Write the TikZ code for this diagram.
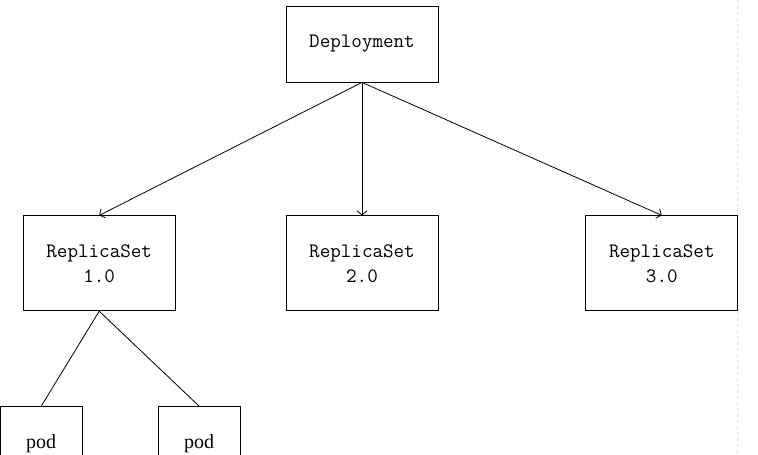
\documentclass[tikz,border=0pt]{standalone}
\usepackage{fontspec}
\setmainfont{Liberation Serif}
\usepackage{tikz}
\usetikzlibrary{positioning,arrows.meta}

\begin{document}
\begin{tikzpicture}[
node distance=1cm,
box/.style={
draw,
line width=0.8pt,
inner sep=0pt,
align=center,
font=\ttfamily\fontsize{20.5}{25}\selectfont,
minimum width=152pt,
minimum height=95pt
},
topbox/.style={
box,
minimum height=76pt
},
podbox/.style={
draw,
line width=0.8pt,
inner sep=0pt,
font=\fontsize{20}{24}\selectfont,
minimum width=82pt,
minimum height=74pt
},
arrow/.style={
-{Straight Barb[length=4pt,width=10pt]},
line width=0.8pt
},
link/.style={
line width=0.8pt
}
]

\useasboundingbox (0,0) rectangle (758pt,-455pt);

% page edge
\draw[gray!25, dashed, line width=0.8pt] (737.5pt,0) -- (737.5pt,-455pt);


% Deployment

\node (deploy) [topbox] at (362pt,-44pt)
{Deployment};


% ReplicaSets

\node (rs2) [box, below=133pt of deploy]
{
ReplicaSet\\
2.0
};

\node (rs1) [box, left=110pt of rs2]
{
ReplicaSet\\
1.0
};

\node (rs3) [box, right=147pt of rs2]
{
ReplicaSet\\
3.0
};


\draw[arrow] (deploy.south) -- (rs1.north);
\draw[arrow] (deploy.south) -- (rs2.north);
\draw[arrow] (deploy.south) -- (rs3.north);


% pods

\node (pod1) [podbox, below=95pt of rs1, xshift=-58pt]
{pod};

\node (pod2) [podbox, below=95pt of rs1, xshift=100pt]
{pod};


\draw[link] (rs1.south) -- (pod1.north);
\draw[link] (rs1.south) -- (pod2.north);


\end{tikzpicture}
\end{document}
